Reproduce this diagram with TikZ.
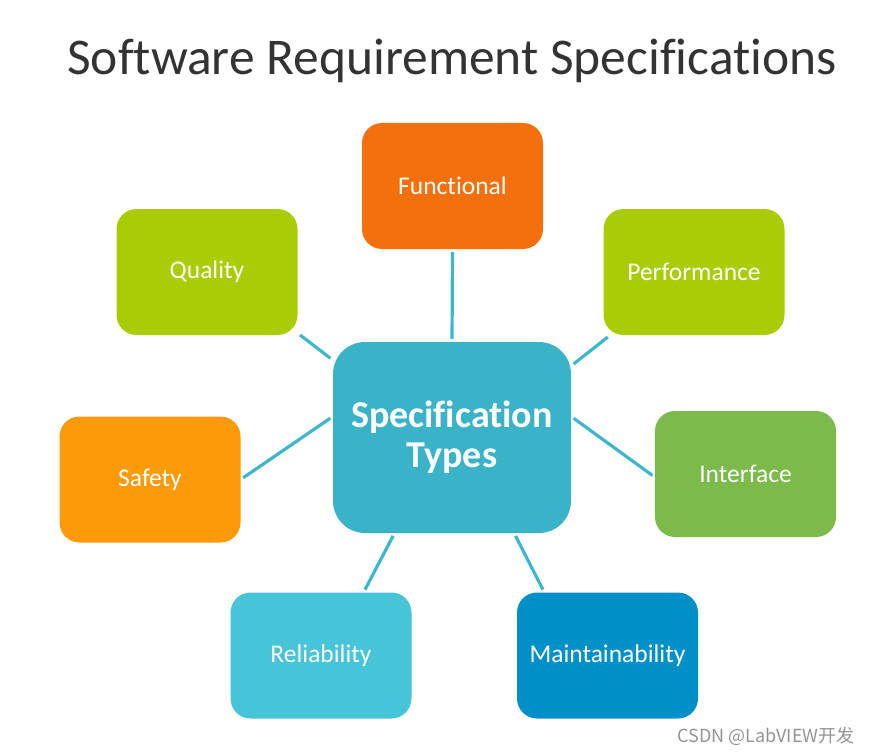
\documentclass[tikz,border=0pt]{standalone}
\usepackage{fontspec}
\setmainfont[RawFeature={-liga;-dlig;-clig}]{Carlito}
\newfontfamily\wmfont{Noto Sans CJK SC}
\definecolor{cfunc}{RGB}{244,112,12}
\definecolor{clime}{RGB}{170,204,4}
\definecolor{cinter}{RGB}{124,186,76}
\definecolor{csafe}{RGB}{252,154,10}
\definecolor{ccenter}{RGB}{58,178,200}
\definecolor{crel}{RGB}{72,196,216}
\definecolor{cmaint}{RGB}{0,144,200}
\definecolor{cline}{RGB}{62,182,204}
\definecolor{ctitle}{RGB}{51,51,51}
\tikzset{
  box/.style={rectangle, rounded corners=20pt, minimum width=181pt, minimum height=126pt,
    text=white, font=\fontsize{25.5}{28}\selectfont, inner sep=0pt},
  hub/.style={rectangle, rounded corners=32pt, minimum width=238pt, minimum height=191pt,
    fill=ccenter, text=white, font=\fontsize{38}{44}\selectfont\bfseries, align=center, inner sep=0pt},
  link/.style={draw=cline, line width=3.2pt, shorten <=3pt, shorten >=3pt}
}
\begin{document}
\begin{tikzpicture}[x=1pt,y=-1pt]
\useasboundingbox (0,0) rectangle (874,754);
\node[text=ctitle, font=\fontsize{51.5}{56}\selectfont, anchor=base] (title) at (452,75) {Software Requirement Specifications};
\node[hub] (c) at (452,437.5) {Specification\\[-4pt]Types};
\node[box, fill=cfunc] (f) at (452.5,186) {Functional};
\node[box, fill=clime] (q) at (207,272) {Quality};
\node[box, fill=clime] (p) at (694,272) {Performance};
\node[box, fill=csafe] (s) at (150,479.5) {Safety};
\node[box, fill=cinter] (i) at (745.5,474) {Interface};
\node[box, fill=crel] (r) at (321,655.5) {Reliability};
\node[box, fill=cmaint] (m) at (607.5,655.5) {Maintainability};
\draw[link] (f.south) -- (c.north);
\draw[link] (q.-34) -- (c.147.6);
\draw[link] (p.217.3) -- (c.31);
\draw[link] (s.east) -- (c.170);
\draw[link] (i.182) -- (c.10);
\draw[link] (r.56.7) -- (c.-121.9);
\draw[link] (m.135.4) -- (c.-57.2);
\node[text=black!42, font=\wmfont\fontsize{18}{20}\selectfont, anchor=base east] (wm) at (858,742) {CSDN @LabVIEW开发};
\end{tikzpicture}
\end{document}
